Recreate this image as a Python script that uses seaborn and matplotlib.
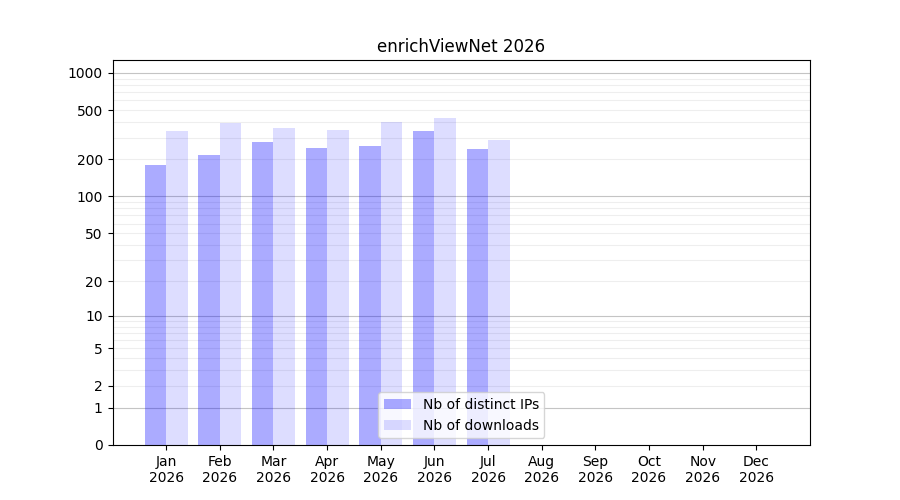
import matplotlib
matplotlib.use("Agg")
import matplotlib.pyplot as plt
import seaborn as sns
import numpy as np
import pandas as pd

# monthly values
months = ['Jan', 'Feb', 'Mar', 'Apr', 'May', 'Jun', 'Jul', 'Aug', 'Sep', 'Oct', 'Nov', 'Dec']
year = '2026'
distinct_ips = [180, 217, 277, 247, 257, 340, 243]
downloads = [340, 396, 359, 346, 402, 433, 287]
series = ['Nb of distinct IPs', 'Nb of downloads']
ytick_values = [0, 1, 2, 5, 10, 20, 50, 100, 200, 500, 1000]

df = pd.DataFrame({
    'month': months[:len(distinct_ips)] * 2,
    'value': distinct_ips + downloads,
    'series': [series[0]] * len(distinct_ips) + [series[1]] * len(downloads),
})

fig, ax = plt.subplots(figsize=(9, 5), dpi=100)

# log(y+1) scale, so 0 sits at the bottom
ax.set_yscale('function', functions=(lambda y: np.log10(np.clip(y, -0.999, None) + 1),
                                     lambda y: 10 ** y - 1))

sns.barplot(data=df, x='month', y='value', hue='series', order=months,
            hue_order=series, width=0.8, legend=False, ax=ax)

alphas = [0.33, 0.135]
for cont, a in zip(ax.containers, alphas):
    for p in cont.patches:
        p.set_facecolor((0, 0, 1, a))
        p.set_edgecolor('none')

# grid lines: decades darker, in-between lighter
for dec in [1, 10, 100]:
    for m in range(1, 10):
        v = dec * m
        if m == 1:
            ax.axhline(v, color='#c4c4c4', lw=0.8, zorder=0)
        else:
            ax.axhline(v, color='#eeeeee', lw=0.8, zorder=0)
ax.axhline(1000, color='#c4c4c4', lw=0.8, zorder=0)

ax.set_ylim(0, 1270)
ax.set_yticks(ytick_values)
ax.set_yticklabels([str(v) for v in ytick_values])
ax.yaxis.set_minor_locator(matplotlib.ticker.NullLocator())

ax.set_xlim(-1, 12)
ax.set_xticks(range(len(months)))
ax.set_xticklabels([f'{m}\n{year}' for m in months])
ax.set_xlabel('')
ax.set_ylabel('')

ax.legend(ax.containers, series, loc='lower center')
ax.set_title(f'enrichViewNet {year}')

fig.subplots_adjust(left=0.125, right=0.9, top=0.88, bottom=0.11)
fig.savefig('out.png', dpi=100)
